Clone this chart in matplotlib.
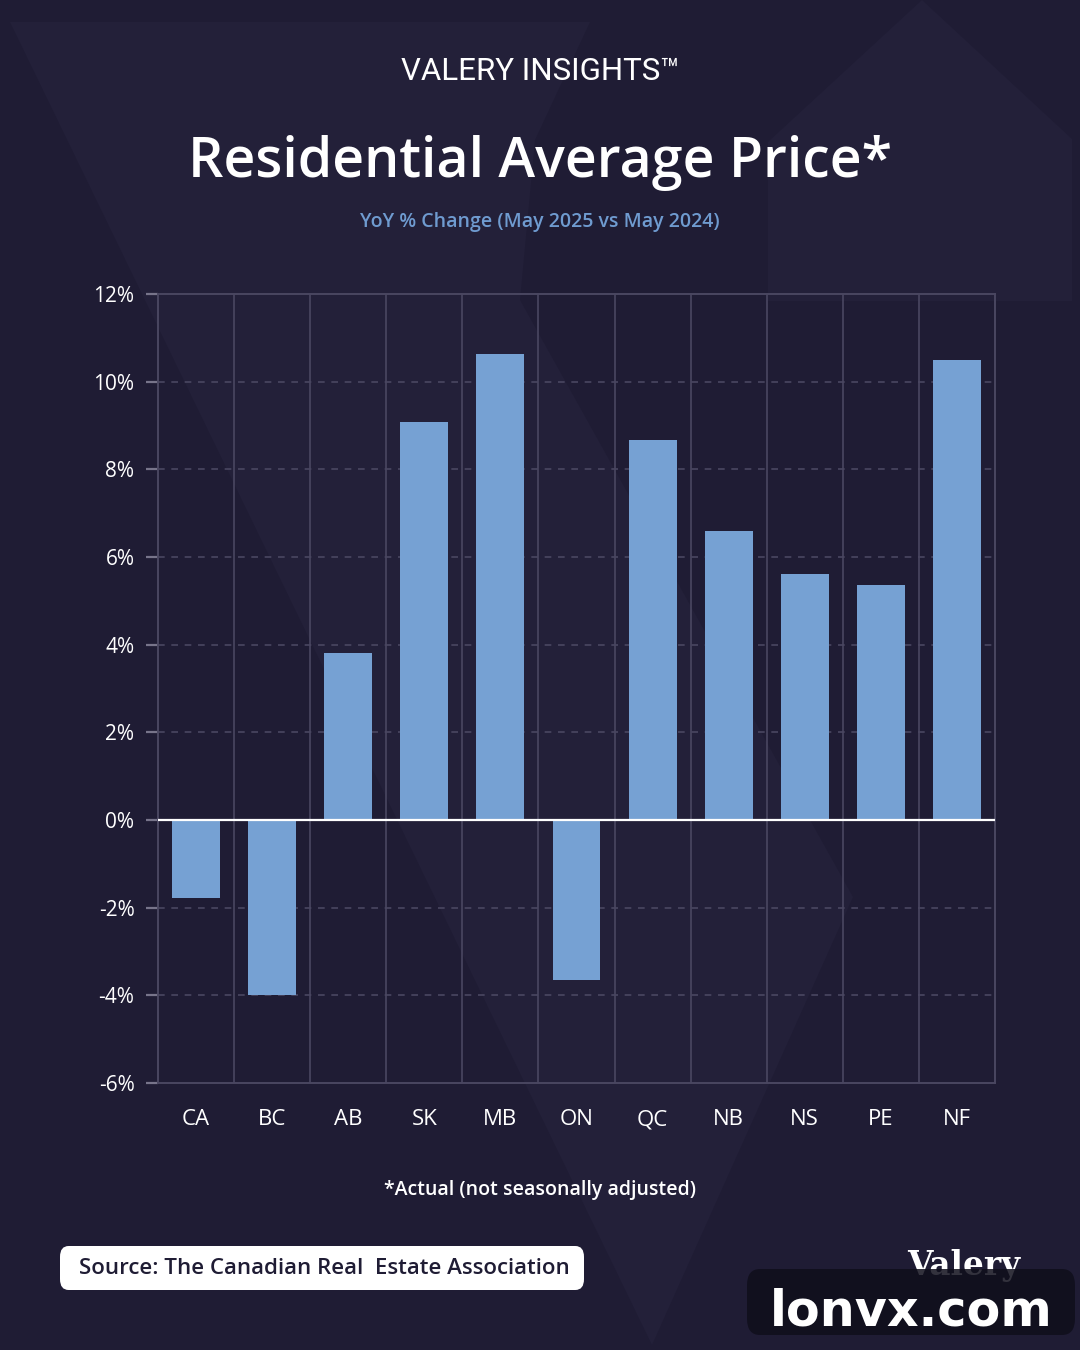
import matplotlib.pyplot as plt
from matplotlib.patches import Polygon, FancyBboxPatch
from matplotlib.ticker import FuncFormatter

# data
provinces = ['CA', 'BC', 'AB', 'SK', 'MB', 'ON', 'QC', 'NB', 'NS', 'PE', 'NF']
yoy_change = [-1.77, -4.0, 3.82, 9.07, 10.64, -3.66, 8.68, 6.59, 5.61, 5.36, 10.5]
y_ticks = [-6, -4, -2, 0, 2, 4, 6, 8, 10, 12]

bg = '#1f1c34'
shade = '#232039'
bar_color = '#76a1d3'
grid_color = '#4a4761'

plt.rcParams['font.family'] = ['Open Sans', 'DejaVu Sans']
plt.rcParams['axes.unicode_minus'] = False

fig = plt.figure(figsize=(10.8, 13.5), dpi=100)
fig.patch.set_facecolor(bg)

W, H = 1080, 1350
def px(x, y):
    return (x / W, 1 - y / H)

# faint background shapes (big V and a house outline), behind everything
v_shape = [px(10, 22), px(590, 22), px(535, 140), px(520, 300), px(853, 897), px(652, 1345)]
fig.patches.append(Polygon(v_shape, closed=True, transform=fig.transFigure,
                           facecolor=shade, edgecolor='none', zorder=-5))
house = [px(768, 142), px(922, 0), px(1072, 139), px(1072, 301), px(768, 301)]
fig.patches.append(Polygon(house, closed=True, transform=fig.transFigure,
                           facecolor=shade, edgecolor='none', zorder=-5))

ax = fig.add_axes([158 / W, 1 - 1083 / H, (995 - 158) / W, (1083 - 294) / H])
ax.set_facecolor('none')
ax.set_zorder(1)

x = range(len(provinces))
ax.bar(x, yoy_change, width=0.63, color=bar_color, zorder=3)

ax.set_xlim(-0.5, len(provinces) - 0.5)
ax.set_ylim(-6, 12)
ax.set_yticks(y_ticks)
ax.yaxis.set_major_formatter(FuncFormatter(lambda v, p: f'{v:.0f}%'))
ax.set_xticks(list(x))
ax.set_xticklabels(provinces)

# horizontal dashed grid, vertical separators between categories
for t in y_ticks[1:-1]:
    if t != 0:
        ax.axhline(t, color=grid_color, lw=1.2, ls=(0, (4, 4)), zorder=1)
for i in range(len(provinces) - 1):
    ax.axvline(i + 0.5, color=grid_color, lw=1.2, zorder=1)
ax.axhline(0, color='white', lw=1.6, zorder=4)

for s in ax.spines.values():
    s.set_color(grid_color)
    s.set_linewidth(1.4)

ax.tick_params(axis='y', colors='white', labelsize=15, length=9, width=1.6,
               color='#77748a', pad=8)
ax.tick_params(axis='x', colors='white', labelsize=16, length=0, pad=19)
for tk in ax.yaxis.get_major_ticks():
    tk.tick1line.set_color('#77748a')
ax.yaxis.get_major_ticks()[y_ticks.index(0)].tick1line.set_color('white')

# header texts
fig.text(0.5, 1 - 72 / H, 'VALERY INSIGHTS\u2122', ha='center', va='center',
         color='white', fontsize=22.5, family=['Roboto', 'DejaVu Sans'])
fig.text(0.5, 1 - 163 / H, 'Residential Average Price*', ha='center', va='center',
         color='white', fontsize=40, fontweight='semibold')
fig.text(0.5, 1 - 222 / H, 'YoY % Change (May 2025 vs May 2024)', ha='center',
         va='center', color='#6f9bd0', fontsize=14, fontweight='semibold')

fig.text(540 / W, 1 - 1190 / H, '*Actual (not seasonally adjusted)', ha='center',
         va='center', color='white', fontsize=14, fontweight='semibold')

# source badge
fig.patches.append(FancyBboxPatch(px(60, 1290), 524 / W, 44 / H,
                                  boxstyle='round,pad=0,rounding_size=0.008',
                                  transform=fig.transFigure, facecolor='white',
                                  edgecolor='none', zorder=5))
fig.text(79 / W, 1 - 1268 / H, 'Source: The Canadian Real  Estate Association',
         ha='left', va='center', color='#1f1c34', fontsize=16,
         fontweight='semibold', zorder=6)

# logo and watermark
fig.text(964 / W, 1 - 1265 / H, 'Valery', ha='center', va='center', color='white',
         fontsize=23.5, fontweight='bold', family=['DejaVu Serif'], zorder=6)
fig.patches.append(FancyBboxPatch(px(747, 1335), 328 / W, 66 / H,
                                  boxstyle='round,pad=0,rounding_size=0.012',
                                  transform=fig.transFigure, facecolor='#0f0e1b',
                                  alpha=0.85, edgecolor='none', zorder=7))
fig.text(911 / W, 1 - 1311 / H, 'lonvx.com', ha='center', va='center',
         color='white', fontsize=35.5, fontweight='bold',
         family=['DejaVu Sans'], zorder=8)

fig.savefig('out.png', dpi=100, facecolor=bg)
